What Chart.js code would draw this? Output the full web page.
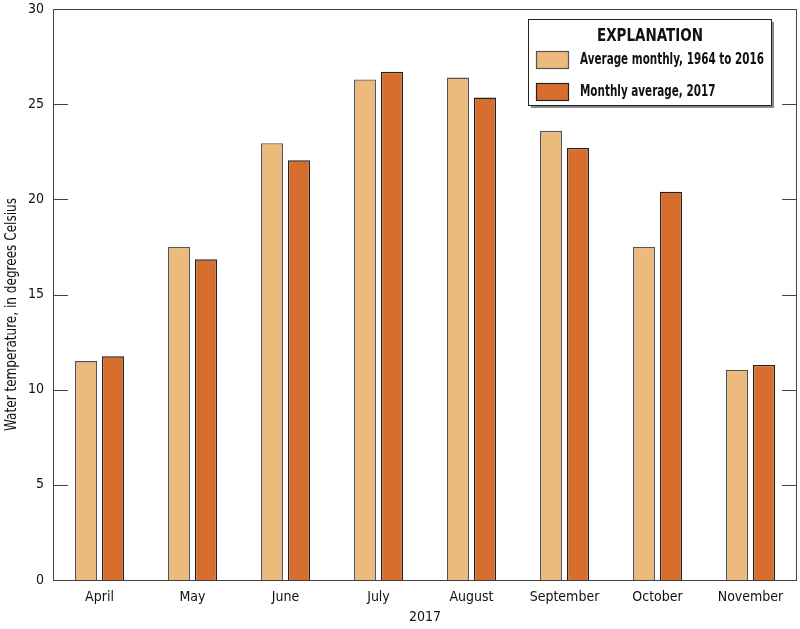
<!DOCTYPE html>
<html>
<head>
<meta charset="utf-8">
<script src="https://cdn.jsdelivr.net/npm/chart.js@4"></script>
<style>
html,body{margin:0;padding:0;background:#fff;}
canvas{display:block;}
</style>
</head>
<body>
<canvas id="c" width="800" height="629"></canvas>
<script>
const months = ['April','May','June','July','August','September','October','November'];
const avgHistoric = [11.5, 17.5, 22.95, 26.3, 26.4, 23.6, 17.5, 11.05];
const avg2017 = [11.75, 16.85, 22.05, 26.7, 25.35, 22.7, 20.4, 11.3];
const seriesLabels = ['Average monthly, 1964 to 2016', 'Monthly average, 2017'];
const yTicks = [0, 5, 10, 15, 20, 25, 30];
const xTitle = '2017';
const yTitle = 'Water temperature, in degrees Celsius';
const legendTitle = 'EXPLANATION';

const FONT = '"Liberation Sans Narrow", "DejaVu Sans Condensed", "Roboto Condensed", Arial, sans-serif';
const LIGHT = '#ECBA7C';
const DARK = '#D86E2D';
const AXIS = '#444444';

function fitText(ctx, text, x, y, maxW, align, rot) {
  const w = ctx.measureText(text).width;
  const s = Math.min(1, maxW / w);
  ctx.save();
  ctx.translate(x, y);
  if (rot) ctx.rotate(rot);
  ctx.scale(s, 1);
  ctx.textAlign = align;
  ctx.fillText(text, 0, 0);
  ctx.restore();
}

const framePlugin = {
  id: 'frame',
  afterDatasetsDraw(chart) {
    const ctx = chart.ctx;
    const a = chart.chartArea;
    const y = chart.scales.y;
    ctx.save();
    ctx.strokeStyle = AXIS;
    ctx.lineWidth = 1;
    ctx.strokeRect(Math.round(a.left) + 0.5, Math.round(a.top) + 0.5, Math.round(a.right - a.left) - 1, Math.round(a.bottom - a.top));
    yTicks.forEach(v => {
      if (v === yTicks[0] || v === yTicks[yTicks.length - 1]) return;
      const py = Math.round(y.getPixelForValue(v)) + 0.5;
      ctx.beginPath();
      ctx.moveTo(a.left, py); ctx.lineTo(a.left + 15, py);
      ctx.moveTo(a.right - 15, py); ctx.lineTo(a.right, py);
      ctx.stroke();
    });
    ctx.restore();
  },
  afterDraw(chart) {
    const ctx = chart.ctx;
    ctx.save();
    // y-axis title, centred on the page height like the reference
    ctx.fillStyle = '#111';
    ctx.textBaseline = 'middle';
    ctx.font = '15px ' + FONT;
    fitText(ctx, yTitle, 12, chart.height / 2, 233, 'center', -Math.PI / 2);

    const bx = 528, by = 19, bw = 243, bh = 86;
    ctx.fillStyle = '#8a8a8a';
    ctx.fillRect(bx + 3, by + bh + 1, bw, 2);
    ctx.fillRect(bx + bw + 1, by + 3, 2, bh);
    ctx.fillStyle = '#fff';
    ctx.fillRect(bx, by, bw, bh);
    ctx.strokeStyle = '#222';
    ctx.lineWidth = 1;
    ctx.strokeRect(bx + 0.5, by + 0.5, bw, bh);
    ctx.fillStyle = '#111';
    ctx.font = 'bold 17px ' + FONT;
    fitText(ctx, legendTitle, 650, 37, 106, 'center');
    ctx.font = 'bold 15px ' + FONT;
    const maxW = Math.max(...chart.data.datasets.map(d => ctx.measureText(d.label).width));
    const s = Math.min(1, 184 / maxW);
    chart.data.datasets.forEach((ds, i) => {
      const sy = 51 + i * 32;
      ctx.fillStyle = ds.backgroundColor;
      ctx.fillRect(536, sy, 32, 17);
      ctx.strokeStyle = ds.borderColor;
      ctx.lineWidth = 1.2;
      ctx.strokeRect(536.5, sy + 0.5, 32, 17);
      ctx.fillStyle = '#111';
      ctx.save();
      ctx.translate(580, sy + 9);
      ctx.scale(s, 1);
      ctx.textAlign = 'left';
      ctx.fillText(ds.label, 0, 0);
      ctx.restore();
    });
    ctx.restore();
  }
};

new Chart(document.getElementById('c'), {
  type: 'bar',
  data: {
    labels: months,
    datasets: [
      { label: seriesLabels[0], data: avgHistoric, backgroundColor: LIGHT, borderColor: '#555', borderWidth: 1.4 },
      { label: seriesLabels[1], data: avg2017, backgroundColor: DARK, borderColor: '#222', borderWidth: 1.4 }
    ]
  },
  options: {
    responsive: false,
    animation: false,
    devicePixelRatio: 1,
    categoryPercentage: 0.58,
    barPercentage: 0.82,
    layout: { padding: { top: 9, right: 3, left: 0, bottom: 0 } },
    plugins: { legend: { display: false }, tooltip: { enabled: false } },
    scales: {
      x: {
        grid: { display: false, drawTicks: false },
        border: { display: false },
        ticks: { color: '#111', font: { family: FONT, size: 14 }, padding: 9, maxRotation: 0 },
        title: { display: true, text: xTitle, color: '#111', font: { family: FONT, size: 14 }, padding: { top: 0, bottom: 3 } },
        afterFit(s) { s.height = 49; s.paddingLeft = 0; s.paddingRight = 0; }
      },
      y: {
        min: 0, max: 30,
        grid: { display: false, drawTicks: false },
        border: { display: false },
        afterBuildTicks(s) { s.ticks = yTicks.map(v => ({ value: v })); },
        ticks: { color: '#111', font: { family: FONT, size: 14 }, padding: 9 },
        title: { display: false, text: yTitle },
        afterFit(s) { s.width = 53; s.paddingTop = 0; s.paddingBottom = 0; }
      }
    }
  },
  plugins: [framePlugin]
});
</script>
</body>
</html>
